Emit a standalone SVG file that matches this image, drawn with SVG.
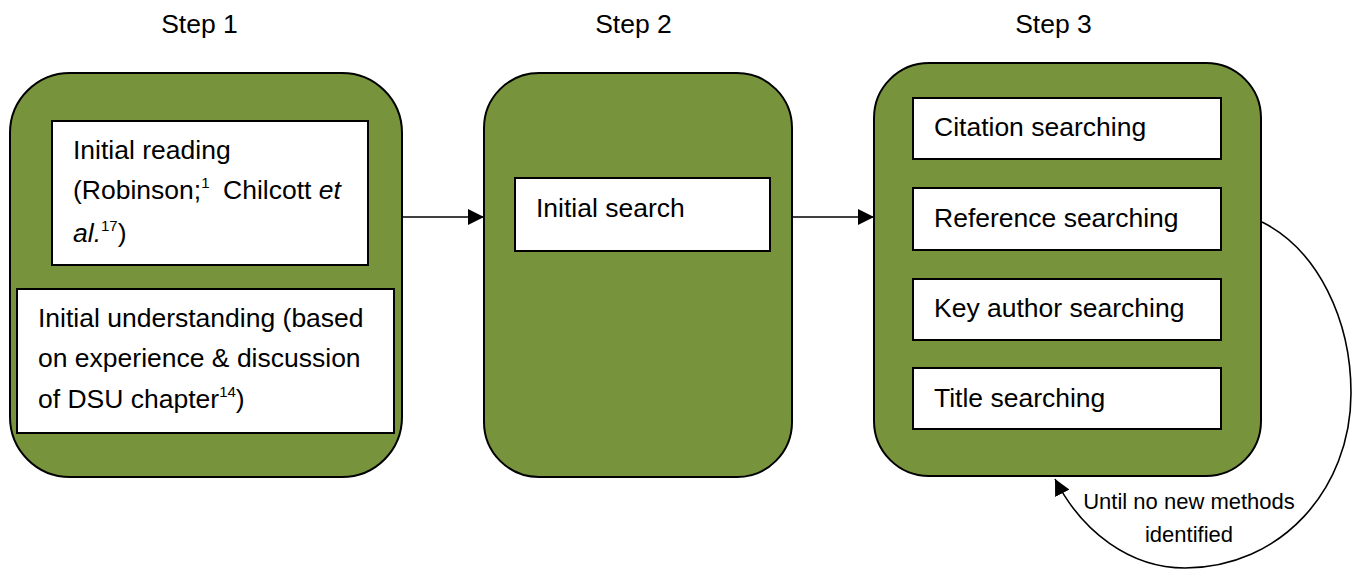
<svg xmlns="http://www.w3.org/2000/svg" width="1359" height="570" viewBox="0 0 1359 570">
<style>
.t{font-family:"Liberation Sans",Arial,sans-serif;font-size:26.5px;fill:#000}
.s{font-size:15px}
.i{font-style:italic}
.stage{fill:#77933C;stroke:#000;stroke-width:2}
.box{fill:#fff;stroke:#000;stroke-width:2}
.conn{fill:none;stroke:#000;stroke-width:1.6}
.lbl{font-family:"Liberation Sans",Arial,sans-serif;font-size:22px;fill:#000}
</style>
<defs>
<marker id="ah" markerWidth="16" markerHeight="16" viewBox="0 0 16 16" refX="16" refY="8" orient="auto" markerUnits="userSpaceOnUse">
<path d="M0,0 L16,8 L0,16 Z" fill="#000"/>
</marker>
</defs>
<g id="labels">
<text class="t" x="199.5" y="33" text-anchor="middle">Step 1</text>
<text class="t" x="633.5" y="33" text-anchor="middle">Step 2</text>
<text class="t" x="1053.5" y="33" text-anchor="middle">Step 3</text>
</g>
<g id="connectors">
<line class="conn" x1="402" y1="217" x2="484" y2="217" marker-end="url(#ah)"/>
<line class="conn" x1="792" y1="217" x2="874" y2="217" marker-end="url(#ah)"/>
<path class="conn" d="M1262,222 C1318,250 1351,320 1351,393 C1351,490 1280,568 1185,568 C1130,568 1082,532 1055,479" marker-end="url(#ah)"/>
<text class="lbl" x="1189" y="509" text-anchor="middle">Until no new methods</text>
<text class="lbl" x="1189" y="542" text-anchor="middle">identified</text>
</g>
<g id="step1">
<rect class="stage" x="10" y="73" width="392" height="404" rx="60" ry="60"/>
<rect class="box" x="52" y="121" width="316" height="144"/>
<text class="t" x="73" y="159">Initial reading</text>
<text class="t" x="73" y="199">(Robinson;<tspan class="s" dy="-11">1</tspan><tspan dy="11" x="223">Chilcott </tspan><tspan class="i">et</tspan></text>
<text class="t" x="73" y="242"><tspan class="i">al.</tspan><tspan class="s" dy="-11">17</tspan><tspan dy="11">)</tspan></text>
<rect class="box" x="17" y="289" width="377" height="144"/>
<text class="t" x="38" y="327">Initial understanding (based</text>
<text class="t" x="38" y="367">on experience &amp; discussion</text>
<text class="t" x="38" y="408">of DSU chapter<tspan class="s" dy="-11">14</tspan><tspan dy="11">)</tspan></text>
</g>
<g id="step2">
<rect class="stage" x="484" y="73" width="308" height="404" rx="55" ry="55"/>
<rect class="box" x="515" y="178" width="255" height="73"/>
<text class="t" x="536" y="217">Initial search</text>
</g>
<g id="step3">
<rect class="stage" x="874" y="63" width="387" height="413" rx="55" ry="55"/>
<rect class="box" x="913" y="98" width="308" height="61"/>
<text class="t" x="934" y="136">Citation searching</text>
<rect class="box" x="913" y="188" width="308" height="62"/>
<text class="t" x="934" y="227">Reference searching</text>
<rect class="box" x="913" y="279" width="308" height="61"/>
<text class="t" x="934" y="317">Key author searching</text>
<rect class="box" x="913" y="368" width="308" height="61"/>
<text class="t" x="934" y="407">Title searching</text>
</g>
</svg>
